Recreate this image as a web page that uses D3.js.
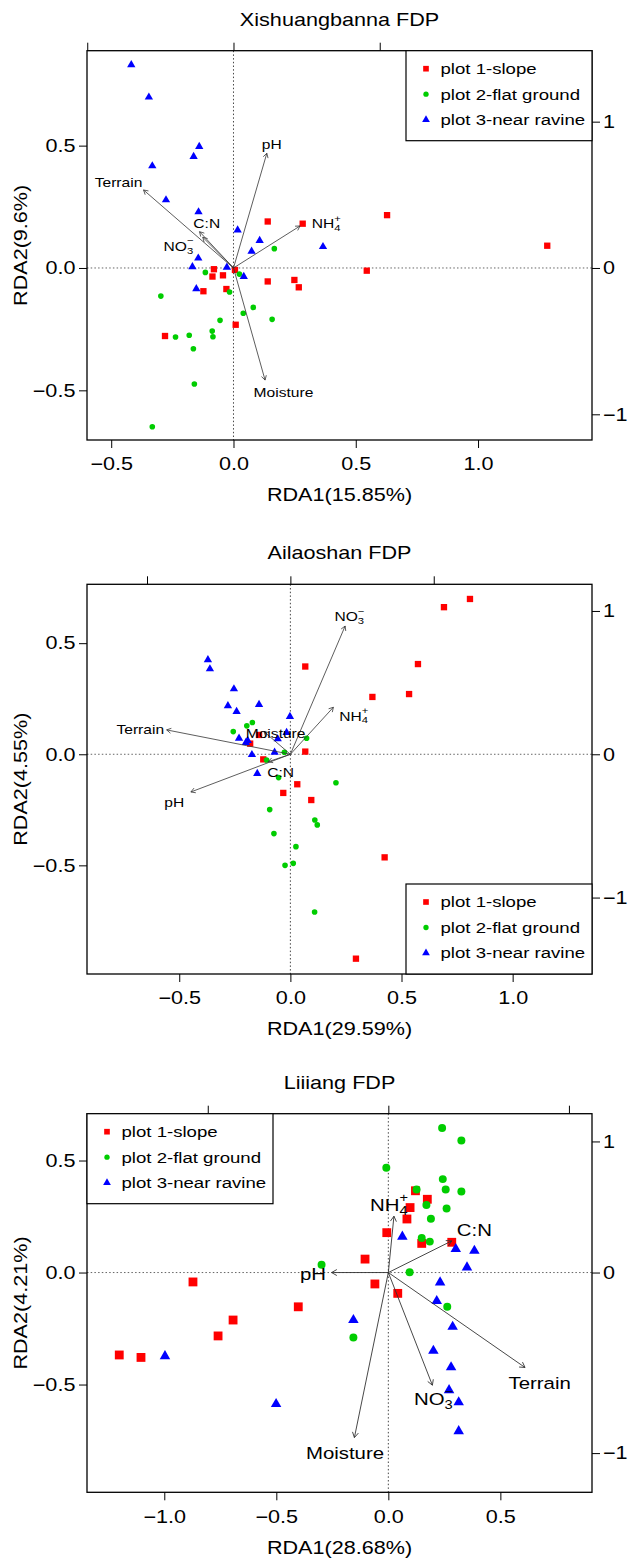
<!DOCTYPE html>
<html>
<head>
<meta charset="utf-8">
<script src="https://cdn.jsdelivr.net/npm/d3@7"></script>
<style>
  body { margin: 0; background: #fff; }
  svg { display: block; background: #fff; }
</style>
</head>
<body>
<svg id="chart" width="629" height="1561"></svg>
<script>
// --- Data (site scores in RDA units, biplot arrows in arrow units) ---
const groupNames = ['plot 1-slope', 'plot 2-flat ground', 'plot 3-near ravine'];
const groupColors = ['#FF0000', '#00CD00', '#0000FF'];

// Xishuangbanna FDP
const xsbSlope = [[0.140,0.190],[0.283,0.181],[-0.080,-0.005],[-0.086,-0.035],[-0.043,-0.030],[0.006,-0.008],[-0.029,-0.086],[-0.123,-0.095],[0.140,-0.055],[0.249,-0.049],[0.267,-0.079],[0.009,-0.232],[-0.280,-0.278],[0.628,0.216],[0.545,-0.011],[1.283,0.091]];
const xsbFlat = [[0.167,0.079],[-0.115,-0.018],[0.024,-0.025],[-0.016,-0.098],[-0.297,-0.115],[0.081,-0.161],[0.040,-0.185],[0.158,-0.210],[-0.055,-0.214],[-0.087,-0.258],[-0.084,-0.281],[-0.181,-0.275],[-0.237,-0.282],[-0.164,-0.330],[-0.160,-0.474],[-0.332,-0.649]];
const xsbRavine = [[-0.418,0.830],[-0.346,0.698],[-0.140,0.496],[-0.163,0.455],[-0.332,0.417],[-0.276,0.278],[-0.143,0.229],[0.017,0.155],[0.107,0.112],[0.074,0.068],[0.366,0.087],[-0.144,0.040],[-0.168,0.005],[-0.027,0.003],[0.042,-0.035],[-0.152,-0.085]];
const xsbVars = ['pH', 'Terrain', 'C:N', 'NO3', 'NH4', 'Moisture'];
const xsbTips = [[0.228,0.784],[-0.615,0.533],[-0.232,0.248],[-0.210,0.210],[0.455,0.287],[0.216,-0.766]];
const xsbLabelAt = [[0.262,0.846],[-0.786,0.583],[-0.183,0.301],[-0.376,0.146],[0.634,0.301],[0.342,-0.848]];

// Ailaoshan FDP
const alsSlope = [[0.067,0.395],[-0.141,0.087],[-0.181,0.048],[-0.122,-0.023],[0.067,0.012],[0.031,-0.135],[-0.032,-0.174],[0.094,-0.206],[0.295,-0.920],[0.808,0.699],[0.691,0.662],[0.574,0.406],[0.369,0.258],[0.534,0.271],[0.424,-0.464]];
const alsFlat = [[-0.257,0.102],[-0.196,0.128],[-0.171,0.143],[-0.027,0.009],[0.073,0.072],[-0.107,-0.026],[-0.053,-0.105],[0.205,-0.128],[-0.093,-0.249],[0.110,-0.296],[0.121,-0.318],[-0.074,-0.357],[0.025,-0.416],[0.013,-0.491],[-0.024,-0.500],[0.109,-0.710]];
const alsRavine = [[-0.371,0.425],[-0.362,0.384],[-0.254,0.294],[-0.281,0.218],[-0.242,0.192],[-0.141,0.224],[-0.002,0.170],[-0.017,0.098],[-0.231,0.072],[-0.192,0.062],[-0.200,0.053],[-0.057,0.069],[-0.173,-0.002],[-0.071,0.009],[-0.149,-0.087]];
const alsVars = ['NO3', 'NH4', 'Terrain', 'pH', 'Moisture', 'C:N'];
const alsTips = [[0.382,0.895],[0.300,0.328],[-0.863,0.170],[-0.694,-0.263],[-0.184,0.158],[-0.154,-0.052]];
const alsLabelAt = [[0.412,0.960],[0.442,0.267],[-1.047,0.174],[-0.810,-0.333],[-0.103,0.147],[-0.068,-0.128]];

// Lijiang FDP
const ljSlope = [[0.121,0.365],[0.174,0.327],[0.097,0.290],[0.083,0.239],[-0.007,0.178],[0.149,0.130],[0.283,0.135],[-0.104,0.060],[-0.060,-0.051],[0.042,-0.093],[-0.402,-0.153],[-0.872,-0.042],[-0.693,-0.212],[-0.760,-0.283],[-1.201,-0.368],[-1.104,-0.379]];
const ljFlat = [[0.240,0.645],[0.326,0.589],[-0.009,0.468],[0.243,0.417],[0.126,0.371],[0.256,0.371],[0.326,0.362],[0.170,0.301],[0.260,0.286],[0.190,0.240],[0.149,0.154],[0.185,0.138],[-0.298,0.035],[0.095,0.001],[0.263,-0.153],[-0.156,-0.290]];
const ljRavine = [[0.0625,0.160],[0.301,0.105],[0.384,0.097],[0.351,0.023],[0.231,-0.044],[0.216,-0.127],[0.287,-0.242],[-0.156,-0.212],[0.201,-0.349],[0.280,-0.423],[0.271,-0.525],[0.314,-0.579],[0.314,-0.708],[-0.501,-0.587],[-0.997,-0.373]];
const ljVars = ['NH4', 'C:N', 'pH', 'Terrain', 'NO3', 'Moisture'];
const ljTips = [[0.031,0.312],[0.351,0.175],[-0.314,0.000],[0.757,-0.526],[0.244,-0.624],[-0.188,-0.914]];
const ljLabelAt = [[0.004,0.374],[0.476,0.235],[-0.417,-0.008],[0.838,-0.610],[0.250,-0.701],[-0.240,-1.002]];

// Axis ticks
const xTicks12 = [-0.5, 0, 0.5, 1.0];
const xTicks3 = [-1.0, -0.5, 0, 0.5];
const yTicksAll = [-0.5, 0, 0.5];
const arrowTicks = [-1, 0, 1];

// --- Layout ---
const FONT = '"Liberation Sans", Arial, Helvetica, sans-serif';
const SX = 1.2;               // the original font runs wide
const LEFT = 87, RIGHT = 592;

const panels = [
  { title: 'Xishuangbanna FDP', xlab: 'RDA1(15.85%)', ylab: 'RDA2(9.6%)',
    top: 50.7, bottom: 440, xDomain: [-0.599, 1.466], yDomain: [-0.703, 0.888], mul: 0.598, rightTop: 1,
    xTicks: xTicks12, groups: [xsbSlope, xsbFlat, xsbRavine],
    vars: xsbVars, tips: xsbTips, labelAt: xsbLabelAt, legend: 'topright',
    sizes: [40, 25, 30], labelSize: 13, arrowHead: 5, arrowWidth: 0.8 },
  { title: 'Ailaoshan FDP', xlab: 'RDA1(29.59%)', ylab: 'RDA2(4.55%)',
    top: 584.3, bottom: 974, xDomain: [-0.915, 1.357], yDomain: [-0.989, 0.765], mul: 0.645, rightTop: 1,
    xTicks: xTicks12, groups: [alsSlope, alsFlat, alsRavine],
    vars: alsVars, tips: alsTips, labelAt: alsLabelAt, legend: 'bottomright',
    sizes: [40, 25, 30], labelSize: 13, arrowHead: 5, arrowWidth: 0.8 },
  { title: 'Liiiang FDP', xlab: 'RDA1(28.68%)', ylab: 'RDA2(4.21%)',
    top: 1113.7, bottom: 1492.3, xDomain: [-1.345, 0.909], yDomain: [-0.981, 0.709], mul: 0.806, rightTop: 0.726,
    xTicks: xTicks3, groups: [ljSlope, ljFlat, ljRavine],
    vars: ljVars, tips: ljTips, labelAt: ljLabelAt, legend: 'topleft',
    sizes: [78, 50, 48], labelSize: 17, arrowHead: 6, arrowWidth: 0.9 }
];

const svg = d3.select('#chart').attr('font-family', FONT);
const shapes = [d3.symbolSquare, d3.symbolCircle, d3.symbolTriangle];

function stretchedText(sel, x, y, str, size, anchor, rotate) {
  return sel.append('text')
    .attr('transform', `translate(${x},${y})` + (rotate ? ` rotate(${rotate})` : '') + ` scale(${SX},1)`)
    .attr('font-size', size)
    .attr('text-anchor', anchor || 'middle')
    .attr('dy', '0.35em')
    .attr('fill', '#000')
    .text(str);
}

// variable label, with chemical sub/superscripts stacked like R plotmath
const chem = { NO3: ['NO', '3', '\u2212'], NH4: ['NH', '4', '+'] };
function varLabel(sel, x, y, name, size) {
  const g = sel.append('g');
  const inner = g.append('g').attr('transform', `scale(${SX},1)`);
  const parts = chem[name] || [name, '', ''];
  const base = inner.append('text').attr('font-size', size).attr('dy', '0.35em').text(parts[0]);
  let w = base.node().getComputedTextLength();
  if (parts[1]) {
    const sub = inner.append('text').attr('x', w).attr('y', size * 0.32).attr('dy', '0.35em')
      .attr('font-size', size * 0.72).text(parts[1]);
    const sup = inner.append('text').attr('x', w).attr('y', -size * 0.42).attr('dy', '0.35em')
      .attr('font-size', size * 0.72).text(parts[2]);
    w += Math.max(sub.node().getComputedTextLength(), sup.node().getComputedTextLength());
  }
  g.attr('transform', `translate(${x - w * SX / 2},${y})`);
}

function arrowPath(x0, y0, x1, y1, len) {
  const a = Math.atan2(y1 - y0, x1 - x0), h = Math.PI / 6;
  return `M${x0},${y0}L${x1},${y1}` +
    `M${x1 - len * Math.cos(a - h)},${y1 - len * Math.sin(a - h)}L${x1},${y1}` +
    `L${x1 - len * Math.cos(a + h)},${y1 - len * Math.sin(a + h)}`;
}

function styleAxis(g, size) {
  g.attr('font-family', FONT).attr('font-size', size);
  g.select('.domain').remove();
  g.selectAll('.tick line').attr('stroke', '#000');
  g.selectAll('.tick text')
    .attr('fill', '#000')
    .attr('x', function () { return (+this.getAttribute('x') || 0) / SX; })
    .attr('transform', `scale(${SX},1)`);
}

panels.forEach(p => {
  const x = d3.scaleLinear().domain(p.xDomain).range([LEFT, RIGHT]);
  const y = d3.scaleLinear().domain(p.yDomain).range([p.bottom, p.top]);
  // arrow (biplot) scales share the origin, shrunk by the multiplier
  const xB = d3.scaleLinear().domain(p.xDomain.map(v => v / p.mul)).range([LEFT, RIGHT]);
  const yB = d3.scaleLinear().domain(p.yDomain.map(v => v / p.mul)).range([p.bottom, p.top]);
  const yRight = d3.scaleLinear().domain([-1, 0, 1]).range([yB(-1), yB(0), yB(p.rightTop)]);

  const g = svg.append('g');

  // axes
  g.append('g').attr('transform', `translate(0,${p.bottom})`)
    .call(d3.axisBottom(x).tickValues(p.xTicks).tickSize(8).tickPadding(9.5).tickFormat(d3.format('.1f')))
    .call(a => styleAxis(a, 18));
  g.append('g').attr('transform', `translate(${LEFT},0)`)
    .call(d3.axisLeft(y).tickValues(yTicksAll).tickSize(8).tickPadding(3.6).tickFormat(d3.format('.1f')))
    .call(a => styleAxis(a, 18));
  g.append('g').attr('transform', `translate(0,${p.top})`)
    .call(d3.axisTop(xB).tickValues(arrowTicks).tickSize(8).tickFormat(''))
    .call(a => styleAxis(a, 18));
  g.append('g').attr('transform', `translate(${RIGHT},0)`)
    .call(d3.axisRight(yRight).tickValues(arrowTicks).tickSize(8).tickPadding(3).tickFormat(d3.format('d')))
    .call(a => styleAxis(a, 18));

  // zero lines
  g.append('line').attr('x1', x(0)).attr('x2', x(0)).attr('y1', p.top).attr('y2', p.bottom)
    .attr('stroke', '#333').attr('stroke-width', 0.9).attr('stroke-dasharray', '1.5,2.2');
  g.append('line').attr('x1', LEFT).attr('x2', RIGHT).attr('y1', y(0)).attr('y2', y(0))
    .attr('stroke', '#555').attr('stroke-width', 0.9).attr('stroke-dasharray', '1.5,2.2');

  // site points
  p.groups.forEach((pts, i) => {
    g.append('g').selectAll('path').data(pts).join('path')
      .attr('transform', d => `translate(${x(d[0])},${y(d[1])})`)
      .attr('d', d3.symbol(shapes[i], p.sizes[i]))
      .attr('fill', groupColors[i]);
  });

  // biplot arrows and labels
  g.append('g').selectAll('path').data(p.tips).join('path')
    .attr('d', d => arrowPath(xB(0), yB(0), xB(d[0]), yB(d[1]), p.arrowHead))
    .attr('fill', 'none').attr('stroke', '#333').attr('stroke-width', p.arrowWidth);
  p.vars.forEach((v, i) => varLabel(g, xB(p.labelAt[i][0]), yB(p.labelAt[i][1]), v, p.labelSize));

  // frame
  g.append('rect').attr('x', LEFT).attr('y', p.top).attr('width', RIGHT - LEFT).attr('height', p.bottom - p.top)
    .attr('fill', 'none').attr('stroke', '#000').attr('stroke-width', 1.3);

  // legend
  const lw = 186, lh = 90;
  const lx = p.legend === 'topleft' ? LEFT : RIGHT - lw;
  const ly = p.legend === 'bottomright' ? p.bottom - lh : p.top;
  const lg = g.append('g').attr('transform', `translate(${lx},${ly})`);
  lg.append('rect').attr('width', lw).attr('height', lh).attr('fill', '#fff')
    .attr('stroke', '#000').attr('stroke-width', 1.2);
  const legendSizes = [32, 22, 26];
  groupNames.forEach((name, i) => {
    const yy = 18 + i * 25.5;
    lg.append('path').attr('transform', `translate(20,${yy})`)
      .attr('d', d3.symbol(shapes[i], legendSizes[i])).attr('fill', groupColors[i]);
    stretchedText(lg, 34.5, yy, name, 15.5, 'start');
  });

  // titles
  const cx = (LEFT + RIGHT) / 2;
  stretchedText(g, cx, p.top - 31.5, p.title, 18);
  stretchedText(g, cx, p.bottom + 55, p.xlab, 18);
  stretchedText(g, 21, (p.top + p.bottom) / 2, p.ylab, 18, 'middle', -90);
});
</script>
</body>
</html>
